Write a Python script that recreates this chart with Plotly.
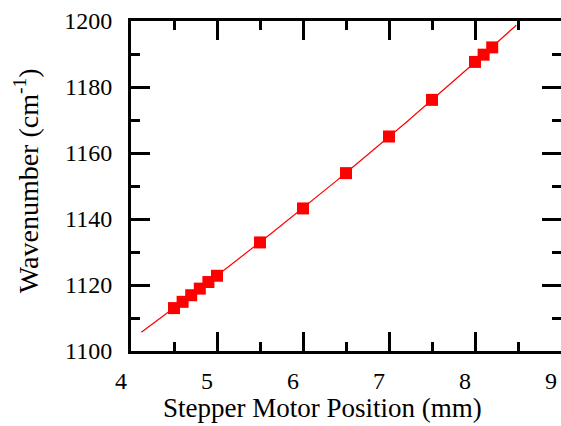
import numpy as np
import plotly.graph_objects as go

# Data
position_mm = [4.5, 4.6, 4.7, 4.8, 4.9, 5.0, 5.5, 6.0, 6.5, 7.0, 7.5, 8.0, 8.1, 8.2]
wavenumber = [1113.0, 1114.9, 1116.9, 1118.9, 1120.9, 1122.8, 1132.9, 1143.2,
              1153.9, 1165.0, 1176.1, 1187.6, 1189.8, 1192.0]
# x extent of the drawn fit curve
fit_x_range = [4.12, 8.48]

x_ticks = [4, 5, 6, 7, 8, 9]
y_ticks = [1100, 1120, 1140, 1160, 1180, 1200]

# second-order polynomial fit of the data (the curve in the reference bends slightly)
coef = np.polyfit(position_mm, wavenumber, 2)
fit_x = np.linspace(fit_x_range[0], fit_x_range[1], 120)
fit_y = np.polyval(coef, fit_x)

fig = go.Figure()
fig.add_trace(go.Scatter(x=fit_x, y=fit_y, mode="lines",
                         line=dict(color="#ff0000", width=1.2), showlegend=False,
                         hoverinfo="skip"))
fig.add_trace(go.Scatter(x=position_mm, y=wavenumber, mode="markers",
                         marker=dict(symbol="square", size=12, color="#ff0000",
                                     line=dict(width=0)),
                         showlegend=False, cliponaxis=False))

font_family = "Liberation Serif"
tick_style = dict(ticks="inside", ticklen=19, tickwidth=2.5, tickcolor="black",
                  showgrid=False, zeroline=False)
line_style = dict(showline=True, linecolor="black", linewidth=3)
x_minor = dict(dtick=0.5, tick0=4, ticks="inside", ticklen=9, tickwidth=2.5,
               tickcolor="black", showgrid=False)
y_minor = dict(dtick=10, tick0=1100, ticks="inside", ticklen=9, tickwidth=2.5,
               tickcolor="black", showgrid=False)

fig.update_layout(
    xaxis=dict(range=[4, 9], tickvals=x_ticks, ticktext=[str(v) for v in x_ticks],
               minor=x_minor, ticklabelshift=-10, ticklabelstandoff=6,
               tickfont=dict(family=font_family, size=24, color="black"),
               **tick_style, **line_style),
    yaxis=dict(range=[1100, 1200], tickvals=y_ticks, ticktext=[str(v) for v in y_ticks],
               minor=y_minor, ticklabelstandoff=11,
               tickfont=dict(family=font_family, size=24, color="black"),
               **tick_style, **line_style),
    # mirrored axes on top and right so minor and major ticks show on all four sides
    xaxis2=dict(overlaying="x", side="top", matches="x", range=[4, 9], tickvals=x_ticks,
                showticklabels=False, minor=x_minor, **tick_style, **line_style),
    yaxis2=dict(overlaying="y", side="right", matches="y", range=[1100, 1200],
                tickvals=y_ticks, showticklabels=False, minor=y_minor,
                **tick_style, **line_style),
    annotations=[
        dict(text="Stepper Motor Position (mm)", xref="paper", yref="paper",
             x=0.4465, y=-0.1727, xanchor="center", yanchor="middle", showarrow=False,
             font=dict(family=font_family, size=27, color="black")),
        dict(text="Wavenumber (cm<sup>-1</sup>)", xref="paper", yref="paper",
             x=-0.244, y=0.515, xanchor="center", yanchor="middle", showarrow=False,
             textangle=-90, font=dict(family=font_family, size=28, color="black")),
    ],
    width=561, height=426,
    margin=dict(l=131, r=0, t=21, b=75, autoexpand=False),
    plot_bgcolor="white", paper_bgcolor="white",
)
# invisible trace to activate the mirrored axes
fig.add_trace(go.Scatter(x=[None], y=[None], xaxis="x2", yaxis="y2",
                         mode="markers", showlegend=False, hoverinfo="skip"))

fig.write_html("out.html", config={"displayModeBar": False},
               post_script="document.body.style.margin='0';document.body.style.overflow='hidden';")
